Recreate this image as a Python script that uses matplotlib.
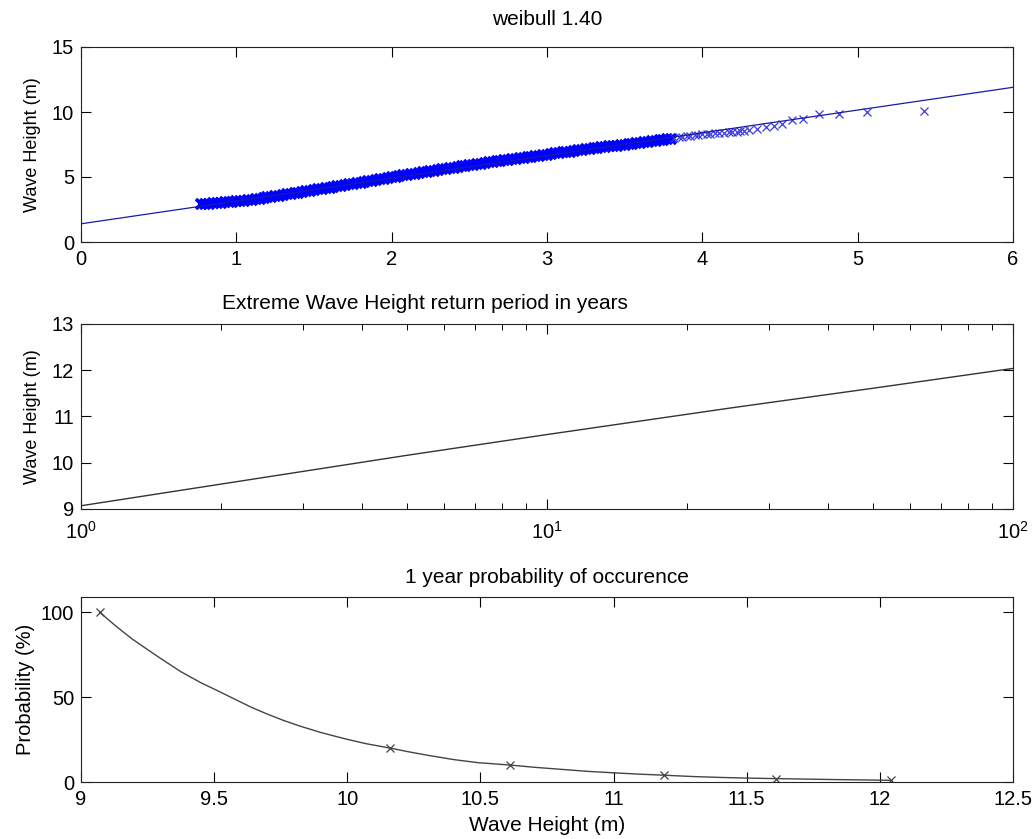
import matplotlib
matplotlib.use("Agg")
import matplotlib.pyplot as plt
from matplotlib.ticker import LogLocator, NullFormatter

plt.rcParams['font.family'] = ['Liberation Sans', 'DejaVu Sans']
plt.rcParams['mathtext.fontset'] = 'custom'
plt.rcParams['mathtext.rm'] = 'Liberation Sans'

# ---------------- data ----------------
# Weibull plot (top): reduced variate vs ranked wave height (dense part)
wb_x = [0.775, 0.80, 0.825, 0.85, 0.875, 0.90, 0.925, 0.95, 0.975, 1.00,
        1.025, 1.05, 1.075, 1.10, 1.125, 1.15, 1.175, 1.20,
        1.225, 1.25, 1.275, 1.30, 1.325, 1.35, 1.375, 1.40,
        1.425, 1.45, 1.475, 1.50, 1.525, 1.55, 1.575, 1.60,
        1.625, 1.65, 1.675, 1.70, 1.725, 1.75, 1.775, 1.80,
        1.825, 1.85, 1.875, 1.90, 1.925, 1.95, 1.975, 2.00,
        2.025, 2.05, 2.075, 2.10, 2.125, 2.15, 2.175, 2.20,
        2.225, 2.25, 2.275, 2.30, 2.325, 2.35, 2.375, 2.40,
        2.425, 2.45, 2.475, 2.50, 2.525, 2.55, 2.575, 2.60,
        2.625, 2.65, 2.675, 2.70, 2.725, 2.75, 2.775, 2.80,
        2.825, 2.85, 2.875, 2.90, 2.925, 2.95, 2.975, 3.00,
        3.025, 3.05, 3.075, 3.10, 3.125, 3.15, 3.175, 3.20,
        3.225, 3.25, 3.275, 3.30, 3.325, 3.35, 3.375, 3.40,
        3.425, 3.45, 3.475, 3.50, 3.525, 3.55, 3.575, 3.60,
        3.625, 3.65, 3.675, 3.70, 3.725, 3.75, 3.775, 3.80]
wb_h = [2.92, 2.94, 2.96, 2.98, 3.00, 3.02, 3.05, 3.07, 3.09, 3.12,
        3.15, 3.18, 3.22, 3.26, 3.30, 3.34, 3.38, 3.43,
        3.47, 3.52, 3.56, 3.61, 3.66, 3.70, 3.75, 3.80,
        3.85, 3.89, 3.94, 3.99, 4.04, 4.08, 4.13, 4.18,
        4.23, 4.28, 4.33, 4.38, 4.43, 4.47, 4.52, 4.57,
        4.62, 4.67, 4.72, 4.77, 4.82, 4.87, 4.92, 4.97,
        5.02, 5.07, 5.12, 5.17, 5.21, 5.26, 5.31, 5.36,
        5.41, 5.45, 5.50, 5.55, 5.59, 5.64, 5.68, 5.73,
        5.77, 5.82, 5.86, 5.90, 5.95, 5.99, 6.03, 6.08,
        6.12, 6.16, 6.20, 6.24, 6.29, 6.33, 6.37, 6.41,
        6.45, 6.49, 6.53, 6.57, 6.61, 6.65, 6.69, 6.73,
        6.77, 6.81, 6.85, 6.89, 6.92, 6.96, 7.00, 7.04,
        7.08, 7.12, 7.16, 7.20, 7.23, 7.27, 7.31, 7.35,
        7.39, 7.42, 7.46, 7.50, 7.54, 7.57, 7.61, 7.65,
        7.69, 7.72, 7.76, 7.79, 7.83, 7.86, 7.90, 7.93]
# Weibull plot (top): upper tail
tail_x = [3.82, 3.85, 3.87, 3.90, 3.92, 3.95, 3.97, 4.00, 4.03, 4.05,
          4.08, 4.11, 4.14, 4.17, 4.19, 4.22, 4.24, 4.27, 4.30,
          4.35, 4.41, 4.46, 4.51, 4.58, 4.65, 4.75, 4.88, 5.06, 5.43]
tail_h = [7.98, 8.04, 8.10, 8.14, 8.18, 8.22, 8.25, 8.28, 8.31, 8.33,
          8.36, 8.39, 8.42, 8.44, 8.46, 8.49, 8.52, 8.55, 8.58,
          8.69, 8.82, 8.95, 9.05, 9.40, 9.50, 9.88, 9.88, 10.03, 10.10]
fit_x = [0.0, 6.0]
fit_h = [1.40, 11.90]

# Return period (middle)
return_period = [1, 5, 10, 25, 50, 100]
return_height = [9.07, 10.16, 10.61, 11.19, 11.61, 12.04]

# 1-year probability of occurrence (bottom)
prob_curve_h = [9.07, 9.13, 9.19, 9.25, 9.30, 9.375, 9.45, 9.51, 9.575,
                9.64, 9.70, 9.76, 9.825, 9.90, 9.99, 10.07, 10.16, 10.23,
                10.30, 10.40, 10.49, 10.61, 10.70, 10.80, 10.90, 11.00,
                11.10, 11.19, 11.30, 11.40, 11.50, 11.61, 11.80, 12.04]
prob_curve_p = [100, 92, 84.5, 78, 72.7, 65, 58.5, 54, 49,
                44, 40, 36.3, 32.8, 29.2, 25.5, 22.6, 20, 17.8,
                15.8, 13.2, 11.4, 10, 8.7, 7.5, 6.3, 5.4,
                4.6, 4.0, 3.2, 2.7, 2.3, 2.0, 1.5, 1.0]
prob_mark_p = [100, 20, 10, 4, 2, 1]

# ---------------- figure ----------------
W, H = 1036, 839
fig = plt.figure(figsize=(W / 100, H / 100), dpi=100)

def pos(l, t, r, b):
    return [l / W, 1 - b / H, (r - l) / W, (b - t) / H]

ax1 = fig.add_axes(pos(81, 47, 1013, 242))
ax2 = fig.add_axes(pos(81, 324, 1013, 509))
ax3 = fig.add_axes(pos(81, 597, 1013, 782))

tick_fs = 14.5
title_fs = 15
for ax in (ax1, ax2, ax3):
    ax.tick_params(direction='in', top=True, right=True, length=7, width=0.8,
                   labelsize=tick_fs, pad=5, colors='black')
    ax.tick_params(axis='x', pad=6)
    for s in ax.spines.values():
        s.set_linewidth(0.8)
        s.set_color('#222222')

# top
ax1.plot(wb_x, wb_h, linestyle='none', marker='x', markersize=7.5,
         markeredgewidth=2.6, color='#0000ff')
ax1.plot(tail_x, tail_h, linestyle='none', marker='x', markersize=6.3,
         markeredgewidth=0.9, color='#3a3ae0')
ax1.plot(fit_x, fit_h, color='#1a1aa8', linewidth=0.9)
ax1.set_xlim(0, 6)
ax1.set_ylim(0, 15)
ax1.set_xticks([0, 1, 2, 3, 4, 5, 6])
ax1.set_yticks([0, 5, 10, 15])
ax1.set_title('weibull 1.40', fontsize=title_fs, pad=16)
ax1.set_ylabel('Wave Height (m)', fontsize=13, labelpad=8)

# middle
ax2.plot(return_period, return_height, color='#333333', linewidth=1.0)
ax2.set_xscale('log')
ax2.set_xlim(1, 100)
ax2.set_ylim(9, 13)
ax2.set_yticks([9, 10, 11, 12, 13])
ax2.xaxis.set_minor_locator(LogLocator(base=10, subs=range(2, 10)))
ax2.xaxis.set_minor_formatter(NullFormatter())
ax2.tick_params(which='minor', direction='in', top=True, length=4.5, width=0.7)
ax2.tick_params(axis='x', which='major', pad=8.5)
ax2.text(0.369, 1.06, 'Extreme Wave Height return period in years',
         transform=ax2.transAxes, ha='center', va='bottom', fontsize=title_fs)
ax2.set_ylabel('Wave Height (m)', fontsize=13, labelpad=8)

# bottom
ax3.plot(prob_curve_h, prob_curve_p, color='#444444', linewidth=1.0)
ax3.plot(return_height, prob_mark_p, linestyle='none', marker='x',
         markersize=6, markeredgewidth=0.9, color='#444444')
ax3.set_xlim(9, 12.5)
ax3.set_ylim(0, 109)
ax3.set_xticks([9, 9.5, 10, 10.5, 11, 11.5, 12, 12.5])
ax3.set_xticklabels(['9', '9.5', '10', '10.5', '11', '11.5', '12', '12.5'])
ax3.set_yticks([0, 50, 100])
ax3.set_title('1 year probability of occurence', fontsize=title_fs, pad=10)
ax3.set_ylabel('Probability (%)', fontsize=14.5, labelpad=4)
ax3.set_xlabel('Wave Height (m)', fontsize=15, labelpad=5)

fig.savefig('out.png', dpi=100, facecolor='white')
